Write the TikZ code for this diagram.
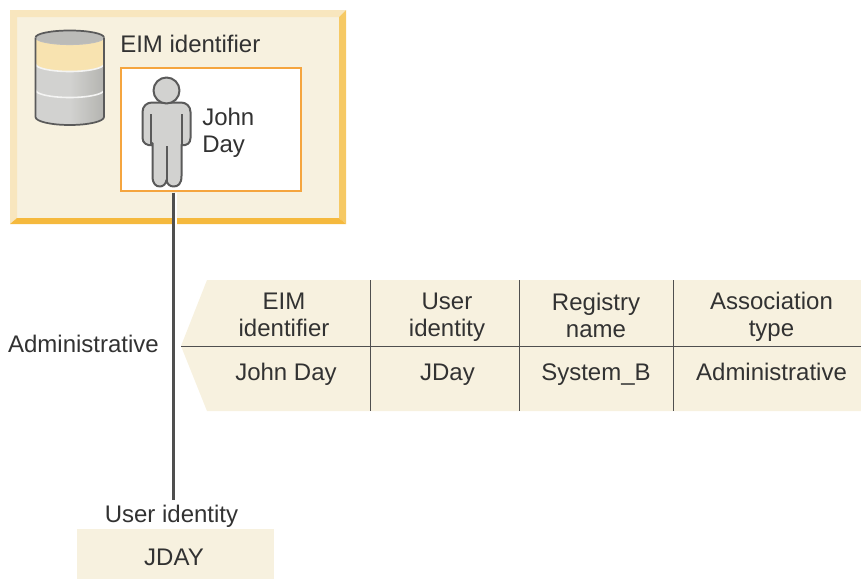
\documentclass[tikz,border=0pt]{standalone}
\usepackage{fontspec}
\setmainfont{Liberation Sans}
\definecolor{cream}{HTML}{F7F1DF}
\definecolor{txt}{HTML}{323232}
\definecolor{frameTL}{HTML}{F8E6BE}
\definecolor{frameR}{HTML}{F6C964}
\definecolor{frameB}{HTML}{F5B93D}
\definecolor{boxedge}{HTML}{F5A53F}
\definecolor{band}{HTML}{F8E3B0}
\definecolor{greyL}{HTML}{D2D2D0}
\definecolor{greyD}{HTML}{B4B4B0}
\definecolor{edge}{HTML}{5A5A5A}
\definecolor{rule}{HTML}{4F4F4F}
\tikzset{
  lbl/.style={text=txt,font=\fontsize{18}{20.2}\selectfont,inner sep=0pt,align=center},
  lblone/.style={lbl,text height=13pt,text depth=4pt},
  lblleft/.style={lbl,align=left,anchor=west},
  outl/.style={draw=edge,line width=1.5pt,line join=round},
  tablerule/.style={draw=rule,line width=0.9pt},
  conn/.style={draw=rule,line width=1.9pt},
}
\begin{document}
\begin{tikzpicture}[x=0.75pt,y=-0.75pt]
\useasboundingbox (0,0) rectangle (861,579);
% frame
\fill[cream] (17,17) rectangle (339,218);
\fill[frameTL] (10,10) -- (346,10) -- (339,17) -- (17,17) -- (17,218) -- (10,224) -- cycle;
\fill[frameR] (346,10) -- (346,224) -- (339,218) -- (339,17) -- cycle;
\fill[frameB] (10,224) -- (346,224) -- (339,218) -- (17,218) -- cycle;
% cylinder
\fill[left color=greyL,right color=greyD,middle color=greyL] (35.5,37.5) -- (35.5,117) arc[start angle=180,end angle=0,x radius=34.25,y radius=8] -- (104,37.5) -- cycle;
\fill[band] (35.5,37.5) -- (35.5,64) arc[start angle=180,end angle=0,x radius=34.25,y radius=7.5] -- (104,37.5) -- cycle;
\draw[white!85!greyD,line width=1.2pt] (35.5,64) arc[start angle=180,end angle=0,x radius=34.25,y radius=7.5];
\draw[white!85!greyD,line width=1.2pt] (35.5,90) arc[start angle=180,end angle=0,x radius=34.25,y radius=7.5];
\fill[greyD!90!white] (69.75,37.5) ellipse[x radius=34.25,y radius=7];
\draw[outl,line width=1.3pt] (35.5,37.5) arc[start angle=180,end angle=360,x radius=34.25,y radius=7];
\draw[draw=edge!40!white,line width=0.8pt] (35.5,37.5) arc[start angle=180,end angle=0,x radius=34.25,y radius=7];
\draw[outl,line width=1.3pt] (35.5,37.5) -- (35.5,117) arc[start angle=180,end angle=0,x radius=34.25,y radius=8] -- (104,37.5);
% inner box
\node[draw=boxedge,fill=white,line width=1.5pt,minimum width=180pt*0.75,minimum height=122.5pt*0.75,inner sep=0pt] (idbox) at (210.8,129.5) {};
% person
\draw[outl,fill=greyL] (152.5,143) -- (152.5,176) .. controls (152.5,184) and (156,186.5) .. (160,186.5) .. controls (163,186.5) and (166,184) .. (166.5,180) .. controls (167,184) and (170,186.5) .. (173.5,186.5) .. controls (178,186.5) and (181.5,184) .. (181.5,176) -- (181.5,145) .. controls (187,146) and (190.5,143) .. (190.5,138) -- (190.5,112) .. controls (190.5,106) and (186,102.5) .. (181,102.5) -- (152,102.5) .. controls (147,102.5) and (142.5,106) .. (142.5,112) -- (142.5,138) .. controls (142.5,143) and (147,146) .. (152.5,145) -- cycle;
\draw[outl,fill=greyL] (166.5,90.5) circle[radius=13];
\draw[outl] (150.7,114) -- (150.7,145);
\draw[outl] (182.3,114) -- (182.3,145);
\draw[outl] (166.5,146) -- (166.5,181);
% table
\path[fill=cream] (207,280) -- (861,280) -- (861,411) -- (207,411) -- (181,346) -- cycle;
\coordinate (tl) at (181,346.5);
\coordinate (tr) at (861,346.5);
\draw[tablerule] (tl) -- (tr);
\coordinate (v1t) at (370.5,280); \coordinate (v1b) at (370.5,411);
\coordinate (v2t) at (519.5,280); \coordinate (v2b) at (519.5,411);
\coordinate (v3t) at (673.5,280); \coordinate (v3b) at (673.5,411);
\draw[tablerule] (v1t) -- (v1b);
\draw[tablerule] (v2t) -- (v2b);
\draw[tablerule] (v3t) -- (v3b);
% texts
\node[lblone,anchor=west] (eim) at (120,46) {EIM identifier};
\node[lblleft] (john) at (202,132.5) {John\\Day};
\node[lblone] (admin) at (83.5,346) {Administrative};
\node[lbl] (h1) at (284,315) {EIM\\identifier};
\node[lbl] (h2) at (447,317) {User\\identity};
\node[lbl] (h3) at (596,315) {Registry\\name};
\node[lbl] (h4) at (771.5,317) {Association\\type};
\node[lblone] (c1) at (286,374.5) {John Day};
\node[lblone] (c2) at (447.5,374.5) {JDay};
\node[lblone] (c3) at (596,374.5) {System\_B};
\node[lblone] (c4) at (771.5,374.5) {Administrative};
\node[lblone] (uid) at (171.5,516) {User identity};
\node[fill=cream,minimum width=197pt*0.75,minimum height=50pt*0.75,inner sep=0pt,anchor=north west] (jbox) at (77,529) {};
\node[lblone] (jday) at (174,559) {JDAY};
% connector
\coordinate (cs) at (173.3,192.5);
\coordinate (ce) at (173.3,500);
\draw[white,line width=1.4pt] ([xshift=2.4pt*0.75]cs) -- ([xshift=2.4pt*0.75]173.3,225);
\draw[conn] (cs) -- (ce);
\end{tikzpicture}
\end{document}
